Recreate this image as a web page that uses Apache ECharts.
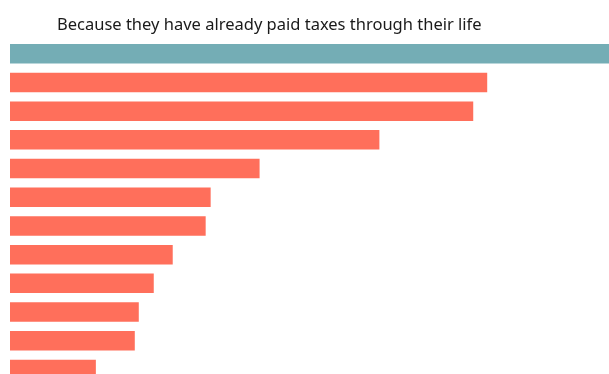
<!DOCTYPE html>
<html>
<head>
<meta charset="utf-8">
<script src="https://cdn.jsdelivr.net/npm/echarts@6/dist/echarts.min.js"></script>
<style>
  html, body { margin: 0; padding: 0; background: #ffffff; overflow: hidden; }
  /* the list continues past the bottom edge of the page */
  #chart { width: 609px; height: 400px; }
</style>
</head>
<body>
<div id="chart"></div>
<script>
// Survey answers, top to bottom; the first one is the highlighted answer
const categories = [
  'Because they have already paid taxes through their life',
  'Answer 2', 'Answer 3', 'Answer 4', 'Answer 5', 'Answer 6',
  'Answer 7', 'Answer 8', 'Answer 9', 'Answer 10', 'Answer 11', 'Answer 12'
];
const values = [60, 47.8, 46.4, 37.0, 25.0, 20.1, 19.6, 16.3, 14.4, 12.9, 12.5, 8.6];
const highlightIndex = 0;

const HIGHLIGHT = '#74adb5';
const BASE = '#ff6f5b';

const chart = echarts.init(document.getElementById('chart'), null, { renderer: 'canvas' });

chart.setOption({
  animation: false,
  backgroundColor: '#ffffff',
  title: {
    text: categories[highlightIndex],
    left: 52,
    top: 12,
    textStyle: {
      fontFamily: 'Noto Sans',
      fontSize: 16.5,
      fontWeight: 'normal',
      color: '#1a1a1a'
    }
  },
  grid: {
    left: 10,
    top: 39.4,
    width: 600,
    height: 344.4,
    containLabel: false
  },
  xAxis: {
    type: 'value',
    min: 0,
    max: 60,
    show: false
  },
  yAxis: {
    type: 'category',
    data: categories,
    inverse: true,
    show: false
  },
  series: [{
    type: 'bar',
    data: values.map((v, i) => ({
      value: v,
      itemStyle: { color: i === highlightIndex ? HIGHLIGHT : BASE }
    })),
    barCategoryGap: '32%',
    clip: true
  }]
});
</script>
</body>
</html>
